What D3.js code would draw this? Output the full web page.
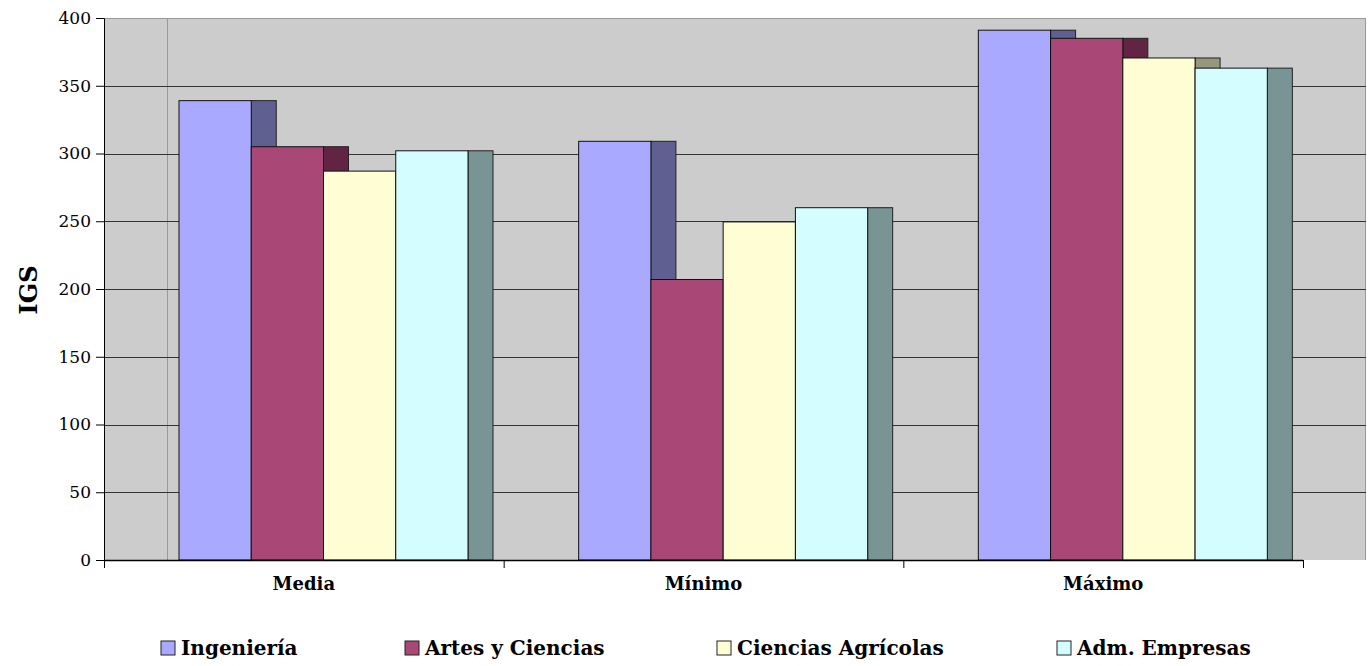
<!DOCTYPE html>
<html><head><meta charset="utf-8">
<script src="https://cdn.jsdelivr.net/npm/d3@7"></script>
<style>body{margin:0;background:#fff}svg{display:block}</style>
</head><body>
<svg id="c" width="1371" height="666"></svg>
<script>
const categories = ["Media", "Mínimo", "Máximo"];
const series = ["Ingeniería", "Artes y Ciencias", "Ciencias Agrícolas", "Adm. Empresas"];
const ingenieria = [339, 309, 391];
const artes = [305, 207, 385];
const agricolas = [287, 249.5, 370.5];
const admEmpresas = [302, 260, 363];
const yTicks = [0, 50, 100, 150, 200, 250, 300, 350, 400];
const frontColors = ["#a9aaff", "#a94876", "#fffdd4", "#d4fdff"];
const sideColors = ["#606090", "#622443", "#97977e", "#789494"];

const values = [ingenieria, artes, agricolas, admEmpresas];
const svg = d3.select("#c");
const font = "'DejaVu Serif', serif";

const L = 104, R = 1303, T = 18, B = 560, wallR = 1366;
const x = d3.scaleBand().domain(categories).range([L, R]);
const xs = d3.scaleBand().domain(series).range([75, 364]);
const y = d3.scaleLinear().domain([0, 400]).range([B, T]);
const depth = 25;

// wall
svg.append("rect").attr("x", L).attr("y", T).attr("width", wallR - L).attr("height", B - T)
  .attr("fill", "#cccccc");
svg.append("line").attr("x1", L).attr("x2", wallR).attr("y1", T + 0.5).attr("y2", T + 0.5).attr("stroke", "#999");
svg.append("line").attr("x1", wallR - 0.5).attr("x2", wallR - 0.5).attr("y1", T).attr("y2", B).attr("stroke", "#999");
svg.append("line").attr("x1", 167.5).attr("x2", 167.5).attr("y1", T).attr("y2", B).attr("stroke", "#999");

// gridlines
svg.append("g").selectAll("line").data(yTicks.filter(d => d > 0 && d < 400)).join("line")
  .attr("x1", L).attr("x2", wallR).attr("y1", d => Math.round(y(d)) + 0.5).attr("y2", d => Math.round(y(d)) + 0.5)
  .attr("stroke", "#333");

// bars
categories.forEach((c, ci) => {
  const g = svg.append("g");
  series.forEach((s, si) => {
    const v = values[si][ci];
    const x0 = x(c) + xs(s), w = xs.bandwidth();
    const top = y(v);
    g.append("rect").attr("x", x0 + w).attr("y", top).attr("width", depth).attr("height", B - top)
      .attr("fill", sideColors[si]).attr("stroke", "#222").attr("stroke-width", 1);
    g.append("rect").attr("x", x0).attr("y", top).attr("width", w).attr("height", B - top)
      .attr("fill", frontColors[si]).attr("stroke", "#111").attr("stroke-width", 1);
  });
});

// y axis
const ya = svg.append("g").attr("transform", `translate(${L},0)`)
  .call(d3.axisLeft(y).tickValues(yTicks).tickSize(8).tickPadding(5));
ya.select(".domain").attr("stroke", "#000");
ya.selectAll(".tick line").attr("stroke", "#000");
ya.selectAll("text").attr("font-family", font).attr("font-size", 17).attr("fill", "#000");

// x axis
const xa = svg.append("g").attr("transform", `translate(0,${B})`)
  .call(d3.axisBottom(x).tickSize(0).tickPadding(17));
xa.select(".domain").remove();
xa.selectAll("text").attr("font-family", font).attr("font-size", 18).attr("font-weight", "bold").attr("fill", "#000");
svg.append("line").attr("x1", L).attr("x2", R).attr("y1", B + 0.5).attr("y2", B + 0.5).attr("stroke", "#000").attr("stroke-width", 1.5);
svg.append("g").selectAll("line").data([L, ...categories.map(c => x(c) + x.bandwidth())]).join("line")
  .attr("x1", d => d + 0.5).attr("x2", d => d + 0.5).attr("y1", B).attr("y2", B + 8).attr("stroke", "#000");

// y title
svg.append("text").attr("transform", "translate(37,290) rotate(-90)").attr("text-anchor", "middle")
  .attr("font-family", font).attr("font-size", 24).attr("font-weight", "bold").text("IGS");

// legend
const legX = [161, 405, 717, 1057];
const leg = svg.append("g").selectAll("g").data(series).join("g")
  .attr("transform", (d, i) => `translate(${legX[i]},641)`);
leg.append("rect").attr("width", 14).attr("height", 14).attr("fill", (d, i) => frontColors[i]).attr("stroke", "#222");
leg.append("text").attr("x", 20).attr("y", 14).attr("font-family", font).attr("font-size", 20)
  .attr("font-weight", "bold").text(d => d);
</script>
</body></html>
